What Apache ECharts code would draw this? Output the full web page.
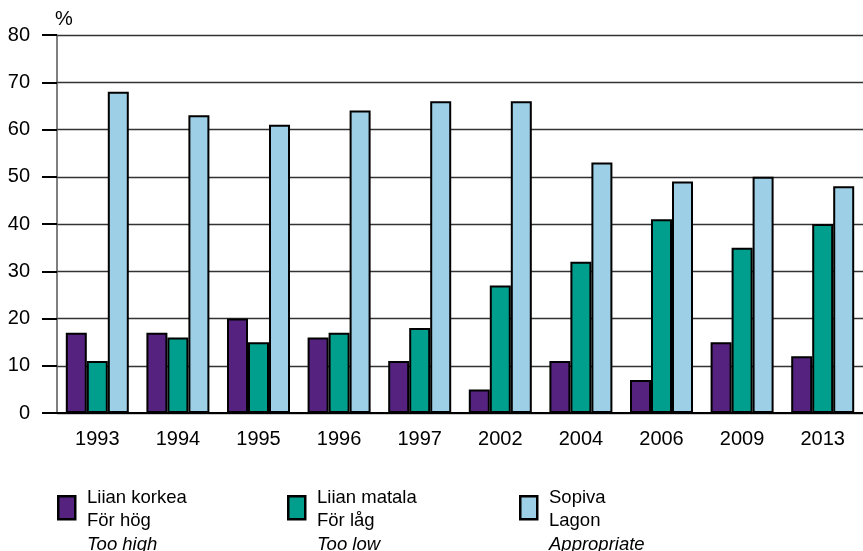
<!DOCTYPE html>
<html>
<head>
<meta charset="utf-8">
<script src="https://cdn.jsdelivr.net/npm/echarts@6/dist/echarts.min.js"></script>
<style>html,body{margin:0;padding:0;background:#fff}#c{width:863px;height:551px}</style>
</head>
<body>
<div id="c"></div>
<script>
var years = ['1993','1994','1995','1996','1997','2002','2004','2006','2009','2013'];
var tooHigh = [17,17,20,16,11,5,11,7,15,12];
var tooLow = [11,16,15,17,18,27,32,41,35,40];
var appropriate = [68,63,61,64,66,66,53,49,50,48];
var yTicks = [0,10,20,30,40,50,60,70,80];
var seriesNames = [
  ['Liian korkea','För hög','Too high'],
  ['Liian matala','För låg','Too low'],
  ['Sopiva','Lagon','Appropriate']
];
var colors = ['#55237f','#009e8d','#9dcfe7'];

var font = '"Liberation Sans", Arial, Helvetica, sans-serif';
var chart = echarts.init(document.getElementById('c'));
var data = [tooHigh, tooLow, appropriate];
var series = data.map(function(d,i){
  return {
    type:'bar', name: seriesNames[i][0], data:d, barWidth:21, barGap:'0%',
    itemStyle:{color:colors[i], borderColor:'#000', borderWidth:2},
    animation:false
  };
});
var legendX = [57,287,519];
var graphics = [];
seriesNames.forEach(function(n,i){
  graphics.push({type:'rect', left:legendX[i], top:495, shape:{width:17,height:23},
    style:{fill:colors[i], stroke:'#000', lineWidth:2.5}});
  graphics.push({type:'text', left:legendX[i]+30, top:488,
    style:{text:'{a|'+n[0]+'}\n{a|'+n[1]+'}\n{b|'+n[2]+'}', rich:{
      a:{fontFamily:font,fontSize:18.5,lineHeight:23.5,fill:'#000'},
      b:{fontFamily:font,fontSize:18.5,lineHeight:23.5,fontStyle:'italic',fill:'#000'}}}});
});
chart.setOption({
  animation:false,
  grid:{left:57,right:-3,top:35,bottom:138},
  xAxis:{type:'category', data:years,
    axisLine:{lineStyle:{color:'#000',width:2}},
    axisTick:{show:false},
    axisLabel:{fontFamily:font,fontSize:20,color:'#000',margin:16}},
  yAxis:{type:'value', min:0, max:80, interval:10,
    name:'%', nameLocation:'end', nameGap:6,
    nameTextStyle:{fontFamily:font,fontSize:20,color:'#000',align:'left',padding:[0,0,0,-2]},
    axisLine:{show:true,lineStyle:{color:'#555',width:1.5}},
    axisTick:{show:true,length:15,lineStyle:{color:'#000',width:2}},
    axisLabel:{fontFamily:font,fontSize:20,color:'#000',margin:27,
      formatter:function(v){return yTicks.indexOf(v)>=0?String(v):'';}},
    splitLine:{lineStyle:{color:'#333',width:1.3}}},
  series:series,
  graphic:graphics
});
</script>
</body>
</html>
